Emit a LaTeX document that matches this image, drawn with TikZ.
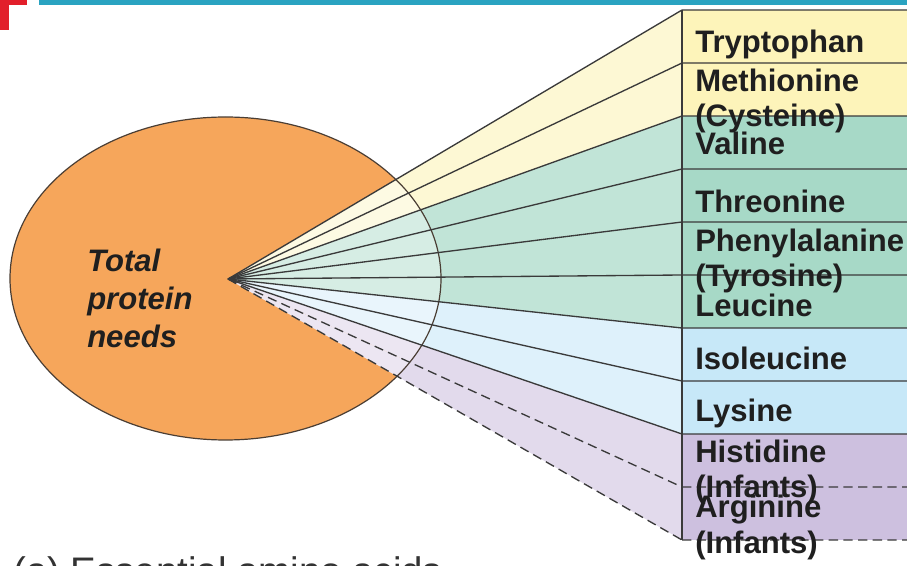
\documentclass[tikz,border=0pt]{standalone}
\usepackage{fontspec}
\setmainfont{Liberation Sans}
\usepackage{xcolor}
\usepackage{tikz}
\definecolor{piefill}{HTML}{F6A65B}
\definecolor{pierim}{HTML}{4A3E34}
\definecolor{ycol}{HTML}{FDF4BA}
\definecolor{ywedge}{HTML}{FDF8D4}
\definecolor{gcol}{HTML}{A7D9C7}
\definecolor{gwedge}{HTML}{C1E4D7}
\definecolor{bcol}{HTML}{C7E8F8}
\definecolor{bwedge}{HTML}{DEF1FB}
\definecolor{pcol}{HTML}{CDC0DF}
\definecolor{pwedge}{HTML}{E2DAEC}
\definecolor{linegray}{HTML}{3A3A3A}
\definecolor{redmark}{HTML}{E21F2B}
\definecolor{topbar}{HTML}{2AA3C1}
\tikzset{ray/.style={draw=linegray,line width=1pt},
         dashray/.style={ray,dash pattern=on 7pt off 4pt},
         rim/.style={draw=pierim,line width=0.9pt},
         amino/.style={anchor=base west,inner sep=0pt,align=left,text=black!88,
                       font=\fontsize{23.3}{26.3}\selectfont\bfseries},
         need/.style={anchor=base west,inner sep=0pt,align=left,text=black!88,
                      font=\fontsize{23.3}{28.5}\selectfont\bfseries\itshape}}

\begin{document}
\begin{tikzpicture}[x=0.75pt,y=-0.75pt]
\clip (0,0) rectangle (907,566);
\fill[white] (0,0) rectangle (907,566);
\fill[redmark] (0,0) rectangle (27,5);
\fill[redmark] (0,0) rectangle (9,30);
\fill[topbar] (39,0) rectangle (907,5);
\fill[piefill] (225.5,278.5) ellipse [x radius=215.5,y radius=161.5];
\coordinate (apex) at (228,279);
\foreach \i in {0,...,10}{
  \coordinate (b\i) at (682,10+53*\i);
  \coordinate (e\i) at (907,10+53*\i);
}
\foreach \i/\c in {0/y,1/y,2/g,3/g,4/g,5/g,6/b,7/b,8/p,9/p}{
  \pgfmathtruncatemacro\j{\i+1}
  \fill[\c wedge] (apex) -- (b\i) -- (b\j) -- cycle;
  \fill[\c col] (b\i) rectangle (e\j);
}
\begin{scope}
\clip (225.5,278.5) ellipse [x radius=215.5,y radius=161.5];
\fill[white,opacity=0.35] (apex) -- (b0) -- (b10) -- cycle;
\end{scope}
\draw[rim] (225.5,278.5) ellipse [x radius=215.5,y radius=161.5];
\foreach \i in {0,...,8}
  \draw[ray] (apex) -- (b\i) (b\i) -- (e\i);
\foreach \i in {9,10}
  \draw[dashray] (apex) -- (b\i) (b\i) -- (e\i);
\draw[ray,line width=1.4pt] (b0) -- (b10);
\node[need] (total) at (87,348) {Total\\protein\\needs};
\node[amino] (trp) at (695,53) {Tryptophan};
\node[amino] (met) at (695,127) {Methionine\\(Cysteine)};
\node[amino] (val) at (695,155) {Valine};
\node[amino] (thr) at (695,213) {Threonine};
\node[amino] (phe) at (695,287) {Phenylalanine\\(Tyrosine)};
\node[amino] (leu) at (695,317) {Leucine};
\node[amino] (ile) at (695,370) {Isoleucine};
\node[amino] (lys) at (695,422) {Lysine};
\node[amino] (his) at (695,498) {Histidine\\(Infants)};
\node[amino] (arg) at (695,553) {Arginine\\(Infants)};
\node[anchor=base west,inner sep=0pt,text=black!80,font=\fontsize{28.8}{30}\selectfont]
  (caption) at (13,584) {(a) Essential amino acids};
\end{tikzpicture}
\end{document}
